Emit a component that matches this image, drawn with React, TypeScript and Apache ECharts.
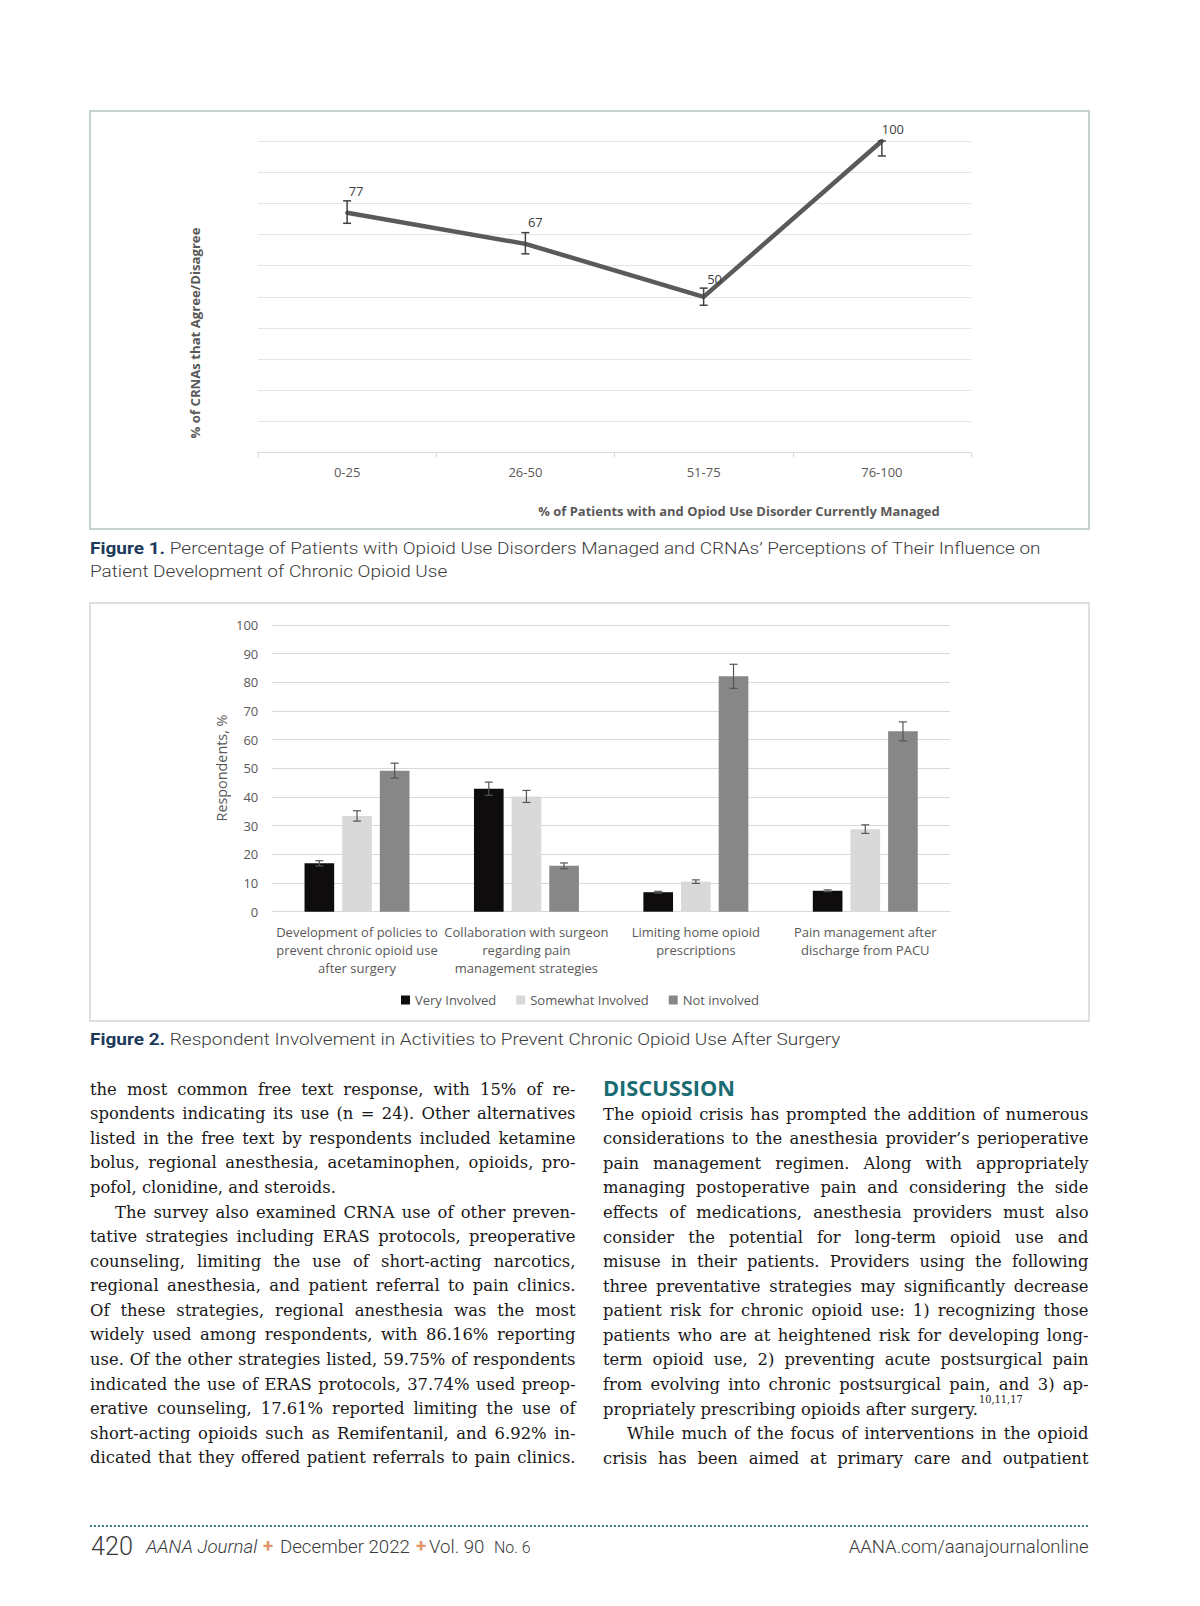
import React, { useEffect, useRef } from 'react';
import * as echarts from 'echarts';

// ---------- Figure 1 data ----------
const fig1Categories = ['0-25', '26-50', '51-75', '76-100'];
const fig1Values = [77, 67, 50, 100];
const fig1ErrLow = [73.6, 63.8, 47.3, 95.2];
const fig1ErrHigh = [80.8, 70.6, 52.8, 100];
const fig1YMin = 0;
const fig1YMax = 100;
const fig1YInterval = 10;

// ---------- Figure 2 data ----------
const fig2Categories = [
  'Development of policies to\nprevent chronic opioid use\nafter surgery',
  'Collaboration with surgeon\nregarding pain\nmanagement strategies',
  'Limiting home opioid\nprescriptions',
  'Pain management after\ndischarge from PACU',
];
const fig2SeriesNames = ['Very Involved', 'Somewhat Involved', 'Not involved'];
const veryInvolved = [16.9, 42.9, 6.8, 7.3];
const somewhatInvolved = [33.4, 40.2, 10.5, 28.8];
const notInvolved = [49.2, 16.0, 82.1, 62.9];
const veryInvolvedErr = [0.9, 2.3, 0.3, 0.3];
const somewhatInvolvedErr = [1.8, 2.1, 0.6, 1.5];
const notInvolvedErr = [2.6, 1.0, 4.2, 3.3];
const fig2YMin = 0;
const fig2YMax = 100;
const fig2YInterval = 10;

// ---------- Page text ----------
const fig1CaptionBold = 'Figure 1.';
const fig1CaptionLines = [
  'Percentage of Patients with Opioid Use Disorders Managed and CRNAs\u2019 Perceptions of Their Influence on',
  'Patient Development of Chronic Opioid Use',
];
const fig2CaptionBold = 'Figure 2.';
const fig2Caption = 'Respondent Involvement in Activities to Prevent Chronic Opioid Use After Surgery';
const fig1YName = '% of CRNAs that Agree/Disagree';
const fig1XName = '% of Patients with and Opiod Use Disorder Currently Managed';
const fig2YName = 'Respondents, %';

const leftColumnLines = [
  { t: 'the most common free text response, with 15% of re-', j: true },
  { t: 'spondents indicating its use (n = 24). Other alternatives', j: true },
  { t: 'listed in the free text by respondents included ketamine', j: true },
  { t: 'bolus, regional anesthesia, acetaminophen, opioids, pro-', j: true },
  { t: 'pofol, clonidine, and steroids.', j: false },
  { t: 'The survey also examined CRNA use of other preven-', j: true, indent: 25 },
  { t: 'tative strategies including ERAS protocols, preoperative', j: true },
  { t: 'counseling, limiting the use of short-acting narcotics,', j: true },
  { t: 'regional anesthesia, and patient referral to pain clinics.', j: true },
  { t: 'Of these strategies, regional anesthesia was the most', j: true },
  { t: 'widely used among respondents, with 86.16% reporting', j: true },
  { t: 'use. Of the other strategies listed, 59.75% of respondents', j: true },
  { t: 'indicated the use of ERAS protocols, 37.74% used preop-', j: true },
  { t: 'erative counseling, 17.61% reported limiting the use of', j: true },
  { t: 'short-acting opioids such as Remifentanil, and 6.92% in-', j: true },
  { t: 'dicated that they offered patient referrals to pain clinics.', j: true },
];
const discussionHeading = 'DISCUSSION';
const rightColumnLines = [
  { t: 'The opioid crisis has prompted the addition of numerous', j: true },
  { t: 'considerations to the anesthesia provider\u2019s perioperative', j: true },
  { t: 'pain management regimen. Along with appropriately', j: true },
  { t: 'managing postoperative pain and considering the side', j: true },
  { t: 'effects of medications, anesthesia providers must also', j: true },
  { t: 'consider the potential for long-term opioid use and', j: true },
  { t: 'misuse in their patients. Providers using the following', j: true },
  { t: 'three preventative strategies may significantly decrease', j: true },
  { t: 'patient risk for chronic opioid use: 1) recognizing those', j: true },
  { t: 'patients who are at heightened risk for developing long-', j: true },
  { t: 'term opioid use, 2) preventing acute postsurgical pain', j: true },
  { t: 'from evolving into chronic postsurgical pain, and 3) ap-', j: true },
  { t: 'propriately prescribing opioids after surgery.', j: false, sup: '10,11,17' },
  { t: 'While much of the focus of interventions in the opioid', j: true, indent: 24 },
  { t: 'crisis has been aimed at primary care and outpatient', j: true },
];
const footerPage = '420';
const footerJournal = 'AANA Journal';
const footerDate = 'December 2022';
const footerVol = 'Vol. 90';
const footerNo = 'No. 6';
const footerUrl = 'AANA.com/aanajournalonline';

export default function App() {
  const ref = useRef<HTMLDivElement>(null);

  useEffect(() => {
    const el = ref.current!;
    const chart = echarts.init(el, undefined, { renderer: 'svg' });

    const canvas = document.createElement('canvas');
    const mctx = canvas.getContext('2d')!;
    const measure = (text: string, size: number, family: string, weight: any = 'normal', style = 'normal') => {
      mctx.font = `${style} ${weight} ${size}px ${family}`;
      return mctx.measureText(text).width;
    };
    const fitSize = (text: string, family: string, weight: any, target: number, base = 20, style = 'normal') =>
      (base * target) / measure(text, base, family, weight, style);

    const elements: any[] = [];
    const addText = (text: string, x: number, y: number, o: any) => {
      elements.push({
        type: 'text',
        x,
        y,
        scaleX: o.scaleX ?? 1,
        rotation: o.rotation ?? 0,
        silent: true,
        style: {
          text,
          fontSize: o.size,
          fontFamily: o.family,
          fontWeight: o.weight ?? 'normal',
          fontStyle: o.fstyle ?? 'normal',
          fill: o.fill,
          align: o.align ?? 'left',
          verticalAlign: o.valign ?? 'middle',
        },
      });
    };

    // frames
    elements.push({
      type: 'rect', silent: true,
      shape: { x: 90, y: 111, width: 999, height: 418 },
      style: { fill: 'none', stroke: '#c6d1d4', lineWidth: 2 },
    });
    elements.push({
      type: 'rect', silent: true,
      shape: { x: 90, y: 603, width: 999, height: 418 },
      style: { fill: 'none', stroke: '#d2d6d6', lineWidth: 1.5 },
    });

    // figure 1 axis names
    const OS = 'Open Sans';
    const yn1 = fitSize(fig1YName, OS, 'bold', 211);
    addText(fig1YName, 194.5, 333, { size: yn1, family: OS, weight: 'bold', fill: '#595959', align: 'center', rotation: Math.PI / 2 });
    const xn1 = fitSize(fig1XName, OS, 'bold', 402);
    addText(fig1XName, 739, 511, { size: xn1, family: OS, weight: 'bold', fill: '#595959', align: 'center' });
    // figure 2 axis name
    const yn2 = fitSize(fig2YName, OS, 'normal', 107);
    addText(fig2YName, 221.5, 768, { size: yn2, family: OS, fill: '#595959', align: 'center', rotation: Math.PI / 2 });

    // captions
    const CF = 'Roboto';
    const CS = 17;
    const capBoldW = measure(fig1CaptionBold + ' ', CS, CF, 'bold');
    const capRestW = measure(fig1CaptionLines[0], CS, CF, 300);
    const kc = 951 / (capBoldW + capRestW);
    const navy = '#1c3a5b';
    const capGray = '#3b3b3b';
    addText(fig1CaptionBold, 90, 548, { size: CS, family: CF, weight: 'bold', fill: navy, scaleX: kc });
    addText(fig1CaptionLines[0], 90 + capBoldW * kc, 548, { size: CS, family: CF, weight: 300, fill: capGray, scaleX: kc });
    addText(fig1CaptionLines[1], 90, 571, { size: CS, family: CF, weight: 300, fill: capGray, scaleX: kc });
    const capBold2W = measure(fig2CaptionBold + ' ', CS, CF, 'bold');
    addText(fig2CaptionBold, 90, 1039, { size: CS, family: CF, weight: 'bold', fill: navy, scaleX: kc });
    addText(fig2Caption, 90 + capBold2W * kc, 1039, { size: CS, family: CF, weight: 300, fill: capGray, scaleX: kc });

    // body text
    const BF = 'DejaVu Serif';
    const BS = 17.5;
    const COL_W = 485.5;
    const bodyFill = '#1a1718';
    let kb = 1;
    [...leftColumnLines, ...rightColumnLines].forEach((l: any) => {
      if (l.j) {
        const w = measure(l.t, BS, BF);
        kb = Math.min(kb, (COL_W - (l.indent || 0)) / w);
      }
    });
    kb *= 0.99;
    const drawLine = (l: any, x0: number, y: number) => {
      const x = x0 + (l.indent || 0);
      const avail = COL_W - (l.indent || 0);
      if (!l.j) {
        addText(l.t, x, y, { size: BS, family: BF, fill: bodyFill, scaleX: kb });
        const end = x + measure(l.t, BS, BF) * kb;
        if (l.sup) addText(l.sup, end + 1, y - 9, { size: 10.5, family: BF, fill: bodyFill, scaleX: kb });
        return;
      }
      const words = l.t.split(' ');
      const ws = words.map((w: string) => measure(w, BS, BF) * kb);
      const sum = ws.reduce((a: number, b: number) => a + b, 0);
      const gap = (avail - sum) / (words.length - 1);
      let cx = x;
      words.forEach((w: string, i: number) => {
        addText(w, cx, y, { size: BS, family: BF, fill: bodyFill, scaleX: kb });
        cx += ws[i] + gap;
      });
    };
    const LH = 24.58;
    leftColumnLines.forEach((l, i) => drawLine(l, 90, 1088.5 + i * LH));
    const dSize = fitSize(discussionHeading, OS, 'bold', 132);
    addText(discussionHeading, 603, 1087.5, { size: dSize, family: OS, weight: 'bold', fill: '#1b6c72' });
    rightColumnLines.forEach((l, i) => drawLine(l, 603, 1113.5 + i * LH));

    // footer
    elements.push({
      type: 'line', silent: true,
      shape: { x1: 90, y1: 1526, x2: 1088.5, y2: 1526 },
      style: { stroke: '#2e6a70', lineWidth: 1.8, lineDash: [1.8, 2.2] },
    });
    const pSize = fitSize(footerPage, CF, 300, 42);
    addText(footerPage, 91, 1546, { size: pSize, family: CF, weight: 300, fill: '#3a3a3a' });
    const fSize = fitSize(footerDate, CF, 300, 130);
    addText(footerJournal, 146, 1547, { size: fSize, family: CF, weight: 300, fstyle: 'italic', fill: '#3a3a3a' });
    addText('+', 268, 1546, { size: fSize, family: CF, weight: 'bold', fill: '#e0956a', align: 'center' });
    addText(footerDate, 280, 1547, { size: fSize, family: CF, weight: 300, fill: '#3a3a3a' });
    addText('+', 421, 1546, { size: fSize, family: CF, weight: 'bold', fill: '#e0956a', align: 'center' });
    addText(footerVol, 429, 1547, { size: fSize, family: CF, weight: 300, fill: '#3a3a3a' });
    addText(footerNo, 494, 1547, { size: fSize * 0.85, family: CF, weight: 300, fill: '#3a3a3a' });
    const uSize = fitSize(footerUrl, CF, 300, 240);
    addText(footerUrl, 1088.5, 1547, { size: uSize, family: CF, weight: 300, fill: '#3a3a3a', align: 'right' });

    // ---------- chart series ----------
    const labelOffsets = [[9, -8], [10, -8], [11, -4], [11, 1]];
    const lineData = fig1Values.map((v, i) => ({ value: v, label: { offset: labelOffsets[i] } }));
    const fig1ErrData = fig1Categories.map((_, i) => [i, fig1ErrLow[i], fig1ErrHigh[i]]);

    const barVals = [veryInvolved, somewhatInvolved, notInvolved];
    const barErrs = [veryInvolvedErr, somewhatInvolvedErr, notInvolvedErr];
    const barColors = ['#0e0c0c', '#d9d9d9', '#878787'];
    const BAR_W = 0.175;
    const BAR_GAP = 0.27;
    const fig2ErrData: any[] = [];
    barVals.forEach((vals, s) =>
      vals.forEach((v, c) => fig2ErrData.push([c, s, v - barErrs[s][c], v + barErrs[s][c]]))
    );

    const option: any = {
      animation: false,
      backgroundColor: '#ffffff',
      grid: [
        { left: 258, right: 229, top: 141, bottom: 1153.3, containLabel: false },
        { left: 272.3, right: 250, top: 625, bottom: 694.3, containLabel: false },
      ],
      legend: {
        data: fig2SeriesNames,
        left: 401,
        top: 993.5,
        padding: 0,
        itemWidth: 9,
        itemHeight: 9,
        itemGap: 20,
        icon: 'rect',
        textStyle: { fontSize: 13, color: '#595959', fontFamily: OS },
        selectedMode: false,
      },
      xAxis: [
        {
          gridIndex: 0,
          type: 'category',
          data: fig1Categories,
          boundaryGap: true,
          axisLine: { lineStyle: { color: '#d9d9d9', width: 1 } },
          axisTick: { show: true, length: 5, lineStyle: { color: '#d9d9d9' } },
          axisLabel: { fontSize: 13, color: '#595959', fontFamily: OS, margin: 11, lineHeight: 16 },
        },
        {
          gridIndex: 1,
          type: 'category',
          data: fig2Categories,
          boundaryGap: true,
          axisLine: { lineStyle: { color: '#d9d9d9', width: 1 } },
          axisTick: { show: false },
          axisLabel: { fontSize: 13, color: '#595959', fontFamily: OS, margin: 11, lineHeight: 18.3, interval: 0 },
        },
      ],
      yAxis: [
        {
          gridIndex: 0,
          type: 'value',
          min: fig1YMin,
          max: fig1YMax,
          interval: fig1YInterval,
          axisLabel: { show: false },
          axisLine: { show: false },
          axisTick: { show: false },
          splitLine: { lineStyle: { color: '#e6e6e6', width: 1 } },
        },
        {
          gridIndex: 1,
          type: 'value',
          min: fig2YMin,
          max: fig2YMax,
          interval: fig2YInterval,
          axisLabel: { fontSize: 13, color: '#595959', fontFamily: OS, margin: 14 },
          axisLine: { show: false },
          axisTick: { show: false },
          splitLine: { lineStyle: { color: '#d9d9d9', width: 1 } },
        },
      ],
      series: [
        {
          type: 'line',
          xAxisIndex: 0,
          yAxisIndex: 0,
          data: lineData,
          symbol: 'circle',
          symbolSize: 4,
          itemStyle: { color: '#5a5a5a' },
          lineStyle: { color: '#5a5a5a', width: 4.5 },
          label: { show: true, position: 'top', fontSize: 13, color: '#404040', fontFamily: OS },
          z: 3,
        },
        {
          type: 'custom',
          xAxisIndex: 0,
          yAxisIndex: 0,
          data: fig1ErrData,
          encode: { x: 0, y: [1, 2] },
          z: 4,
          renderItem: (params: any, api: any) => {
            const lo = api.coord([api.value(0), api.value(1)]);
            const hi = api.coord([api.value(0), api.value(2)]);
            const hw = 4;
            const st = { stroke: '#404040', lineWidth: 1.5 };
            return {
              type: 'group',
              children: [
                { type: 'line', shape: { x1: lo[0], y1: lo[1], x2: hi[0], y2: hi[1] }, style: st },
                { type: 'line', shape: { x1: lo[0] - hw, y1: lo[1], x2: lo[0] + hw, y2: lo[1] }, style: st },
                { type: 'line', shape: { x1: hi[0] - hw, y1: hi[1], x2: hi[0] + hw, y2: hi[1] }, style: st },
              ],
            };
          },
        },
        ...barVals.map((vals, s) => ({
          type: 'bar',
          name: fig2SeriesNames[s],
          xAxisIndex: 1,
          yAxisIndex: 1,
          data: vals,
          barWidth: BAR_W * 100 + '%',
          barGap: BAR_GAP * 100 + '%',
          itemStyle: { color: barColors[s] },
        })),
        {
          type: 'custom',
          xAxisIndex: 1,
          yAxisIndex: 1,
          data: fig2ErrData,
          encode: { x: 0, y: [2, 3] },
          z: 5,
          renderItem: (params: any, api: any) => {
            const c = api.value(0);
            const s = api.value(1);
            const band = api.size([1, 0])[0];
            const bw = band * BAR_W;
            const gap = bw * BAR_GAP;
            const total = 3 * bw + 2 * gap;
            const center = api.coord([c, 0])[0];
            const x = center - total / 2 + s * (bw + gap) + bw / 2;
            const lo = api.coord([c, api.value(2)])[1];
            const hi = api.coord([c, api.value(3)])[1];
            const hw = 4;
            const st = { stroke: '#555555', lineWidth: 1.2 };
            return {
              type: 'group',
              children: [
                { type: 'line', shape: { x1: x, y1: lo, x2: x, y2: hi }, style: st },
                { type: 'line', shape: { x1: x - hw, y1: lo, x2: x + hw, y2: lo }, style: st },
                { type: 'line', shape: { x1: x - hw, y1: hi, x2: x + hw, y2: hi }, style: st },
              ],
            };
          },
        },
      ],
      graphic: { elements },
    };

    chart.setOption(option);
    return () => chart.dispose();
  }, []);

  return (
    <div
      ref={ref}
      style={{ position: 'absolute', left: 0, top: 0, width: 1200, height: 1606, background: '#ffffff' }}
    />
  );
}
